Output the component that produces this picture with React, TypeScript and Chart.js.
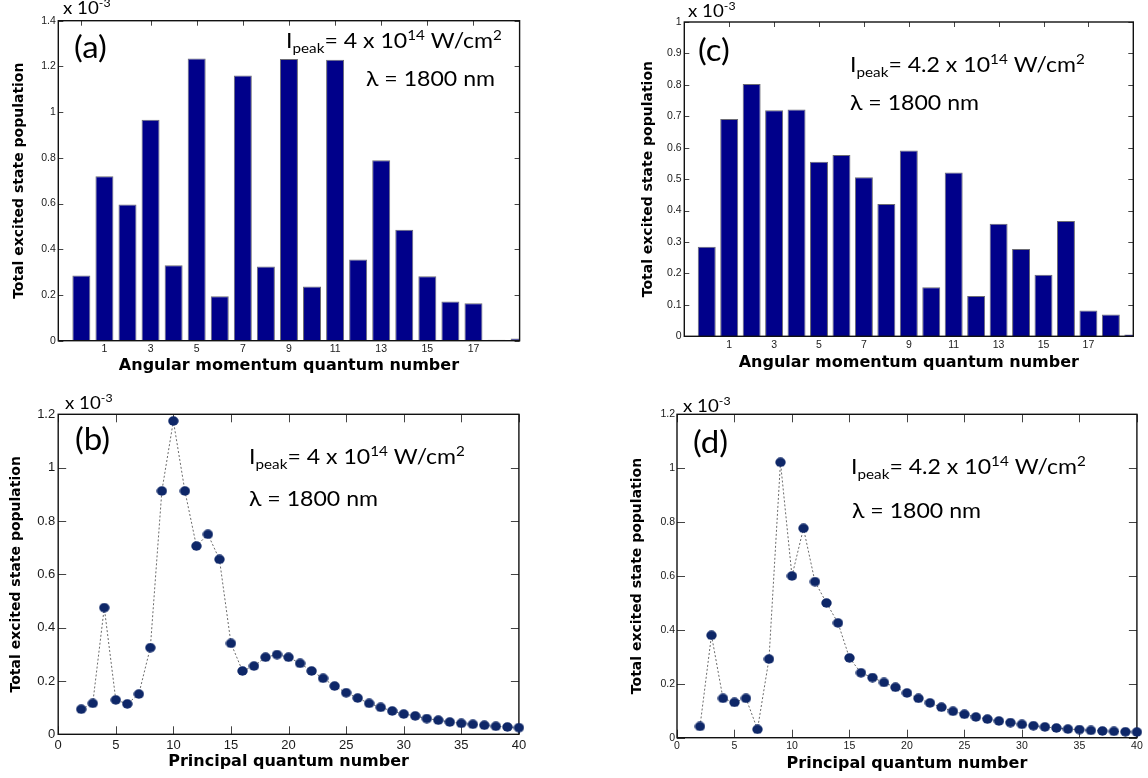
import React, { useEffect, useRef } from 'react';
import { Chart, registerables } from 'chart.js';

Chart.register(...registerables);

// ---------------- data ----------------
const angularL = [0, 1, 2, 3, 4, 5, 6, 7, 8, 9, 10, 11, 12, 13, 14, 15, 16, 17, 18, 19];
const angularTickLabels = [1, 3, 5, 7, 9, 11, 13, 15, 17];
const angularMarksA = [0, 3, 5, 7, 9, 11, 13, 15, 17];
const angularMarksC = [1, 3, 5, 7, 9, 11, 13, 15, 17];

// (a) I = 4e14 W/cm2, units of 1e-3
const popA = [0.285, 0.72, 0.596, 0.967, 0.33, 1.235, 0.194, 1.16, 0.325, 1.232, 0.237, 1.229, 0.355, 0.789, 0.485, 0.282, 0.172, 0.164, 0.004, 0.01];
// (c) I = 4.2e14 W/cm2
const popC = [0.285, 0.691, 0.803, 0.719, 0.722, 0.555, 0.577, 0.506, 0.421, 0.591, 0.156, 0.521, 0.128, 0.358, 0.278, 0.196, 0.367, 0.082, 0.069, 0.006];

const principalN = [2, 3, 4, 5, 6, 7, 8, 9, 10, 11, 12, 13, 14, 15, 16, 17, 18, 19, 20, 21, 22, 23, 24, 25, 26, 27, 28, 29, 30, 31, 32, 33, 34, 35, 36, 37, 38, 39, 40];
const principalTicks = [0, 5, 10, 15, 20, 25, 30, 35, 40];
// (b)
const popB = [0.094, 0.116, 0.475, 0.129, 0.114, 0.151, 0.325, 0.9125, 1.175, 0.9125, 0.706, 0.75, 0.656, 0.341, 0.2375, 0.256, 0.289, 0.299, 0.289, 0.266, 0.2375, 0.21, 0.181, 0.156, 0.136, 0.116, 0.101, 0.0875, 0.076, 0.069, 0.059, 0.053, 0.046, 0.041, 0.0375, 0.034, 0.03, 0.0275, 0.025];
// (d)
const popD = [0.042, 0.38, 0.146, 0.131, 0.146, 0.031, 0.292, 1.022, 0.6, 0.777, 0.579, 0.5, 0.426, 0.296, 0.241, 0.223, 0.205, 0.187, 0.166, 0.146, 0.129, 0.113, 0.098, 0.087, 0.077, 0.069, 0.062, 0.056, 0.0495, 0.0445, 0.04, 0.036, 0.032, 0.03, 0.027, 0.025, 0.0235, 0.022, 0.021];

const yTitleText = 'Total excited state population';
const xTitleAngular = 'Angular momentum quantum number';
const xTitlePrincipal = 'Principal quantum number';
const intensity4 = '4';
const intensity42 = '4.2';
const wavelengthText = 'λ = 1800 nm';

// ---------------- styles ----------------
const BAR_FILL = '#00008a';
const BAR_EDGE = '#6c6c74';
const DOT_FILL = '#0e2768';
const TITLE_FONT = '"DejaVu Sans", sans-serif';
const TICK_FONT = '"Liberation Sans", Arial, sans-serif';
const ANNOT_FONT = 'Lato, "Open Sans", sans-serif';
const STRETCH = 1.1;

type Seg = { t: string; mode?: 'sup' | 'sub' };

type PanelCfg = {
  kind: 'bar' | 'dot';
  x: number; y: number; w: number; h: number;
  area: { left: number; right: number; top: number; bottom: number };
  xs: number[]; ys: number[];
  xMin: number; xMax: number; xLabelTicks: number[]; xMarks: number[];
  yMax: number; yStep: number;
  barPct?: number;
  tickSize: number; tickLen: number;
  xTickPad: number; yTickPad: number;
  xTitle: string; xTitlePadBottom: number; yTitlePadTop: number;
  letter: string; letterPos: [number, number];
  intensity: string; intensityPos: [number, number]; lambdaPos: [number, number];
  expPos: [number, number];
};

let dotImage: HTMLCanvasElement | null = null;
function getDot(): HTMLCanvasElement {
  if (dotImage) return dotImage;
  const c = document.createElement('canvas');
  c.width = 11; c.height = 10;
  const g = c.getContext('2d')!;
  g.fillStyle = DOT_FILL;
  g.beginPath();
  g.ellipse(5.5, 5, 5.2, 4.7, 0, 0, Math.PI * 2);
  g.fill();
  dotImage = c;
  return c;
}

function drawRich(ctx: CanvasRenderingContext2D, x: number, y: number, segs: Seg[], size: number) {
  ctx.save();
  ctx.translate(x, y);
  ctx.scale(STRETCH, 1);
  ctx.fillStyle = '#000';
  ctx.textBaseline = 'alphabetic';
  ctx.textAlign = 'left';
  let cx = 0;
  for (const s of segs) {
    const fs = s.mode ? size * 0.66 : size;
    ctx.font = `${fs}px ${ANNOT_FONT}`;
    const dy = s.mode === 'sup' ? -size * 0.4 : s.mode === 'sub' ? size * 0.24 : 0;
    ctx.fillText(s.t, cx, dy);
    cx += ctx.measureText(s.t).width;
  }
  ctx.restore();
}

function fmtTick(v: number) {
  return String(+Number(v).toFixed(2));
}

function buildConfig(p: PanelCfg): any {
  const isBar = p.kind === 'bar';
  const points = p.xs.map((x, i) => ({ x, y: p.ys[i] }));

  const drawBox = (ctx: CanvasRenderingContext2D, a: any) => {
    ctx.save();
    ctx.strokeStyle = '#111';
    ctx.lineWidth = 1.4;
    ctx.strokeRect(a.left, a.top, a.right - a.left, a.bottom - a.top);
    ctx.restore();
  };

  const framePlugin = {
    id: 'frameAndNotes',
    beforeDatasetsDraw(chart: any) {
      const { ctx, chartArea: a, scales } = chart;
      ctx.save();
      ctx.strokeStyle = '#444';
      ctx.lineWidth = 1;
      ctx.beginPath();
      for (const v of p.xMarks) {
        const px = Math.round(scales.x.getPixelForValue(v)) + 0.5;
        ctx.moveTo(px, a.bottom); ctx.lineTo(px, a.bottom - p.tickLen);
        ctx.moveTo(px, a.top); ctx.lineTo(px, a.top + p.tickLen);
      }
      for (const t of scales.y.ticks) {
        const py = Math.round(scales.y.getPixelForValue(t.value)) + 0.5;
        ctx.moveTo(a.left, py); ctx.lineTo(a.left + p.tickLen, py);
        ctx.moveTo(a.right, py); ctx.lineTo(a.right - p.tickLen, py);
      }
      ctx.stroke();
      ctx.restore();
      if (!isBar) drawBox(ctx, a);
    },
    afterDatasetsDraw(chart: any) {
      if (isBar) drawBox(chart.ctx, chart.chartArea);
    },
    afterDraw(chart: any) {
      const ctx = chart.ctx;
      drawRich(ctx, p.letterPos[0], p.letterPos[1], [{ t: p.letter }], 30);
      drawRich(ctx, p.intensityPos[0], p.intensityPos[1], [
        { t: 'I' }, { t: 'peak', mode: 'sub' }, { t: `= ${p.intensity} x 10` }, { t: '14', mode: 'sup' },
        { t: ' W/cm' }, { t: '2', mode: 'sup' },
      ], 21);
      drawRich(ctx, p.lambdaPos[0], p.lambdaPos[1], [{ t: wavelengthText }], 21);
      drawRich(ctx, p.expPos[0], p.expPos[1], [{ t: 'x 10' }, { t: '-3', mode: 'sup' }], 17);
    },
  };

  const dataset = isBar
    ? {
        data: points,
        backgroundColor: BAR_FILL,
        borderColor: BAR_EDGE,
        borderWidth: 1,
        borderSkipped: 'start',
        barPercentage: p.barPct ?? 0.8,
        categoryPercentage: 1,
        clip: 0,
      }
    : {
        data: points,
        borderColor: '#6a6a6a',
        borderWidth: 1,
        borderDash: [2, 2],
        pointStyle: getDot(),
        pointRadius: 5,
        pointHoverRadius: 5,
        tension: 0,
        fill: false,
        clip: false,
      };

  return {
    type: isBar ? 'bar' : 'line',
    data: { datasets: [dataset] },
    options: {
      animation: false,
      responsive: false,
      maintainAspectRatio: false,
      events: [],
      layout: { padding: { left: 0, top: p.area.top, right: p.w - p.area.right, bottom: 0 } },
      plugins: { legend: { display: false }, tooltip: { enabled: false } },
      scales: {
        x: {
          type: 'linear',
          min: p.xMin,
          max: p.xMax,
          offset: false,
          grid: { display: false, drawTicks: false },
          border: { display: false },
          ticks: {
            autoSkip: false,
            maxRotation: 0,
            padding: p.xTickPad,
            color: '#1a1a1a',
            font: { family: TICK_FONT, size: p.tickSize },
            callback: (v: number) => fmtTick(v),
          },
          afterBuildTicks: (s: any) => {
            s.ticks = p.xLabelTicks.map((v) => ({ value: v }));
          },
          afterFit: (s: any) => {
            s.height = p.h - p.area.bottom;
          },
          title: {
            display: true,
            text: p.xTitle,
            color: '#000',
            font: { family: TITLE_FONT, size: 16, weight: 'bold' },
            padding: { top: 0, bottom: p.xTitlePadBottom },
          },
        },
        y: {
          min: 0,
          max: p.yMax,
          grid: { display: false, drawTicks: false },
          border: { display: false },
          ticks: {
            stepSize: p.yStep,
            padding: p.yTickPad,
            color: '#1a1a1a',
            font: { family: TICK_FONT, size: p.tickSize },
            callback: (v: number) => fmtTick(v),
          },
          afterFit: (s: any) => {
            s.width = p.area.left;
          },
          title: {
            display: true,
            text: yTitleText,
            color: '#000',
            font: { family: TITLE_FONT, size: 14, weight: 'bold' },
            padding: { top: p.yTitlePadTop, bottom: 0 },
          },
        },
      },
    },
    plugins: [framePlugin],
  };
}

const panels: PanelCfg[] = [
  {
    kind: 'bar', x: 0, y: 0, w: 574, h: 385,
    area: { left: 58.3, right: 519.6, top: 20.7, bottom: 340.7 },
    xs: angularL, ys: popA, xMin: -1, xMax: 19, xLabelTicks: angularTickLabels, xMarks: angularMarksA,
    yMax: 1.4, yStep: 0.2, barPct: 0.78, tickSize: 10.5, tickLen: 5, xTickPad: 2.3, yTickPad: 2.5,
    xTitle: xTitleAngular, xTitlePadBottom: 9.4, yTitlePadTop: 11.2,
    letter: '(a)', letterPos: [74, 58], intensity: intensity4, intensityPos: [286, 48], lambdaPos: [366, 86],
    expPos: [63, 14],
  },
  {
    kind: 'dot', x: 0, y: 385, w: 574, h: 393,
    area: { left: 58.2, right: 518.9, top: 29.3, bottom: 349.3 },
    xs: principalN, ys: popB, xMin: 0, xMax: 40, xLabelTicks: principalTicks, xMarks: principalTicks,
    yMax: 1.2, yStep: 0.2, tickSize: 13, tickLen: 8, xTickPad: 3.4, yTickPad: 3,
    xTitle: xTitlePrincipal, xTitlePadBottom: 6.4, yTitlePadTop: 8.1,
    letter: '(b)', letterPos: [75, 64.5], intensity: intensity4, intensityPos: [249, 79], lambdaPos: [249, 121],
    expPos: [65, 24],
  },
  {
    kind: 'bar', x: 574, y: 0, w: 574, h: 385,
    area: { left: 110.3, right: 559.3, top: 22, bottom: 336.3 },
    xs: angularL, ys: popC, xMin: -1, xMax: 19, xLabelTicks: angularTickLabels, xMarks: angularMarksC,
    yMax: 1.0, yStep: 0.1, barPct: 0.8, tickSize: 10.5, tickLen: 5, xTickPad: 2.7, yTickPad: 2.6,
    xTitle: xTitleAngular, xTitlePadBottom: 12.4, yTitlePadTop: 65.6,
    letter: '(c)', letterPos: [124, 61], intensity: intensity42, intensityPos: [276, 72], lambdaPos: [276, 110],
    expPos: [114, 17],
  },
  {
    kind: 'dot', x: 574, y: 385, w: 574, h: 393,
    area: { left: 103, right: 562.9, top: 29.3, bottom: 352.7 },
    xs: principalN, ys: popD, xMin: 0, xMax: 40, xLabelTicks: principalTicks, xMarks: principalTicks,
    yMax: 1.2, yStep: 0.2, tickSize: 10.5, tickLen: 8, xTickPad: 1.7, yTickPad: 2,
    xTitle: xTitlePrincipal, xTitlePadBottom: 4.4, yTitlePadTop: 55.1,
    letter: '(d)', letterPos: [119, 67.5], intensity: intensity42, intensityPos: [277, 89], lambdaPos: [278, 133],
    expPos: [109, 27],
  },
];

function PanelChart({ p }: { p: PanelCfg }) {
  const ref = useRef<HTMLCanvasElement>(null);
  useEffect(() => {
    const chart = new Chart(ref.current as HTMLCanvasElement, buildConfig(p));
    return () => chart.destroy();
  }, [p]);
  return (
    <canvas
      ref={ref}
      width={p.w}
      height={p.h}
      style={{ position: 'absolute', left: p.x, top: p.y, width: p.w, height: p.h }}
    />
  );
}

export default function App() {
  return (
    <div style={{ position: 'absolute', left: 0, top: 0, width: 1148, height: 778, background: '#fff', overflow: 'hidden' }}>
      {panels.map((p, i) => (
        <PanelChart key={i} p={p} />
      ))}
    </div>
  );
}
